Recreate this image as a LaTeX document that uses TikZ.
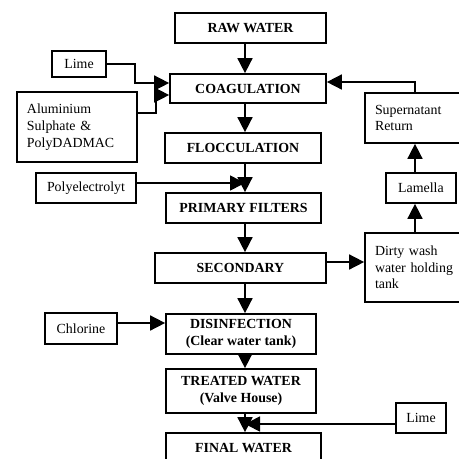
\documentclass[tikz,border=0pt]{standalone}
\usepackage{fontspec}
\setmainfont{Liberation Serif}
\usetikzlibrary{arrows.meta}
\begin{document}
\begin{tikzpicture}[x=1pt,y=-1pt,
    every node/.style={font=\fontsize{13.9}{16.7}\selectfont},
    box/.style={draw, line width=1.7pt, font=\fontsize{13.9}{16.7}\selectfont\bfseries, align=center, inner sep=1pt},
    side/.style={draw, line width=1.7pt, inner sep=3pt},
    arr/.style={-{Triangle[length=15pt,width=15pt]}, line width=1.6pt}]
      \useasboundingbox (0,0) rectangle (459,459);
      \clip (0,0) rectangle (459,459);
      % main line
      \node[box, minimum width=151pt, minimum height=30pt] (raw) at (250.5,28) {RAW WATER};
      \node[box, minimum width=156pt, minimum height=29pt] (coag) at (248,88.5) {COAGULATION};
      \node[box, minimum width=156pt, minimum height=30pt] (floc) at (243,148) {FLOCCULATION};
      \node[box, minimum width=155pt, minimum height=30pt] (prim) at (243.5,208) {PRIMARY FILTERS};
      \node[box, minimum width=171pt, minimum height=30pt] (sec) at (240.5,268) {SECONDARY};
      \node[box, minimum width=150pt, minimum height=40pt] (dis) at (241,334) {DISINFECTION\\(Clear water tank)};
      \node[box, minimum width=150pt, minimum height=44pt] (treat) at (241,391) {TREATED WATER\\(Valve House)};
      \node[box, minimum width=155pt, minimum height=30pt] (final) at (243.5,448) {FINAL WATER};
      % dosing
      \node[side, minimum width=54pt, minimum height=26pt] (lime1) at (79,64) {Lime};
      \node[side, minimum width=120pt, minimum height=70pt, text width=100pt, align=left] (alum) at (77,127) {Aluminium\\Sulphate \&\\PolyDADMAC};
      \node[side, minimum width=100pt, minimum height=30pt] (poly) at (86,188) {Polyelectrolyt};
      \node[side, minimum width=72pt, minimum height=31pt] (chlor) at (81,328.5) {Chlorine};
      \node[side, minimum width=50pt, minimum height=30pt] (lime2) at (421,418) {Lime};
      % wash water return
      \node[side, minimum width=120pt, minimum height=50pt, text width=100pt, align=left] (super) at (425,118) {Supernatant\\Return};
      \node[side, minimum width=70pt, minimum height=30pt] (lam) at (421,188) {Lamella};
      \node[side, minimum width=120pt, minimum height=69pt, text width=100pt, align=left] (dirty) at (425,267.5) {Dirty wash\\water holding\\tank};
      \coordinate (spine) at (245,0);
      \coordinate (rx) at (415,0);
      \coordinate (j1) at (135,83);
      \coordinate (j2) at (156,95);
      \begin{scope}[arr]
        \draw (raw.south -| spine) -- (coag.north -| spine);
        \draw (coag.south -| spine) -- (floc.north -| spine);
        \draw (floc.south -| spine) -- (prim.north -| spine);
        \draw (prim.south -| spine) -- (sec.north -| spine);
        \draw (sec.south -| spine) -- (dis.north -| spine);
        \draw (dis.south -| spine) -- (treat.north -| spine);
        \draw (treat.south -| spine) -- (final.north -| spine);
        \draw (lime1.east) -| (j1) -- (j1 -| coag.west);
        \draw ([yshift=14pt]alum.east) -| (j2) -- (j2 -| coag.west);
        \draw ([yshift=5pt]poly.east) -- ([yshift=5pt]poly.east -| spine);
        \draw ([yshift=5.5pt]chlor.east) -- ([yshift=5.5pt]chlor.east -| dis.west);
        \draw ([yshift=-6pt]lime2.west) -- ([yshift=-6pt]lime2.west -| spine);
        \draw ([yshift=6pt]sec.east) -- ([yshift=6pt]sec.east -| dirty.west);
        \draw (dirty.north -| rx) -- (lam.south -| rx);
        \draw (lam.north -| rx) -- (super.south -| rx);
        \draw (super.north -| rx) |- ([yshift=6.5pt]coag.east);
      \end{scope}
    \end{tikzpicture}
\end{document}
